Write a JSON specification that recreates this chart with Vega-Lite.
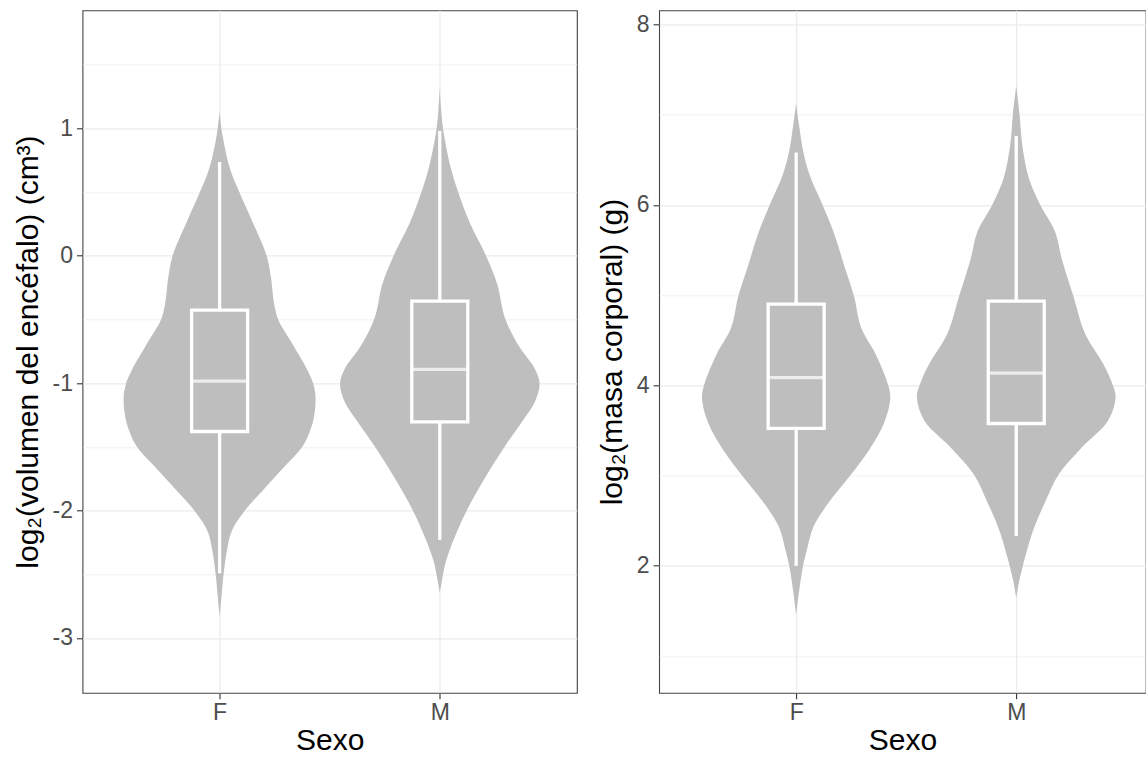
{
  "$schema": "https://vega.github.io/schema/vega-lite/v6.json",
  "background": "white",
  "padding": {"left": 11.5, "top": 9.3, "right": 0, "bottom": 0},
  "spacing": 81.6,
  "bounds": "flush",
  "datasets": {
    "vb": [
      {"sexo": "F", "v": 1.127, "lo": 1, "hi": 1},
      {"sexo": "F", "v": 0.942, "lo": 0.9865, "hi": 1.0135},
      {"sexo": "F", "v": 0.677, "lo": 0.952, "hi": 1.048},
      {"sexo": "F", "v": 0.497, "lo": 0.910, "hi": 1.090},
      {"sexo": "F", "v": 0.280, "lo": 0.8545, "hi": 1.1455},
      {"sexo": "F", "v": 0.002, "lo": 0.787, "hi": 1.213},
      {"sexo": "F", "v": -0.170, "lo": 0.767, "hi": 1.233},
      {"sexo": "F", "v": -0.382, "lo": 0.752, "hi": 1.248},
      {"sexo": "F", "v": -0.501, "lo": 0.734, "hi": 1.266},
      {"sexo": "F", "v": -0.700, "lo": 0.667, "hi": 1.333},
      {"sexo": "F", "v": -0.912, "lo": 0.597, "hi": 1.403},
      {"sexo": "F", "v": -1.004, "lo": 0.575, "hi": 1.425},
      {"sexo": "F", "v": -1.123, "lo": 0.564, "hi": 1.436},
      {"sexo": "F", "v": -1.309, "lo": 0.577, "hi": 1.423},
      {"sexo": "F", "v": -1.494, "lo": 0.622, "hi": 1.378},
      {"sexo": "F", "v": -1.653, "lo": 0.704, "hi": 1.296},
      {"sexo": "F", "v": -1.838, "lo": 0.802, "hi": 1.198},
      {"sexo": "F", "v": -1.997, "lo": 0.884, "hi": 1.116},
      {"sexo": "F", "v": -2.156, "lo": 0.944, "hi": 1.056},
      {"sexo": "F", "v": -2.315, "lo": 0.967, "hi": 1.033},
      {"sexo": "F", "v": -2.500, "lo": 0.982, "hi": 1.018},
      {"sexo": "F", "v": -2.685, "lo": 0.992, "hi": 1.008},
      {"sexo": "F", "v": -2.831, "lo": 1, "hi": 1},
      {"sexo": "M", "v": 1.315, "lo": 2, "hi": 2},
      {"sexo": "M", "v": 1.15, "lo": 1.994, "hi": 2.006},
      {"sexo": "M", "v": 0.992, "lo": 1.985, "hi": 2.015},
      {"sexo": "M", "v": 0.701, "lo": 1.952, "hi": 2.048},
      {"sexo": "M", "v": 0.503, "lo": 1.9175, "hi": 2.0825},
      {"sexo": "M", "v": 0.251, "lo": 1.862, "hi": 2.138},
      {"sexo": "M", "v": 0.0, "lo": 1.790, "hi": 2.210},
      {"sexo": "M", "v": -0.225, "lo": 1.739, "hi": 2.261},
      {"sexo": "M", "v": -0.489, "lo": 1.704, "hi": 2.296},
      {"sexo": "M", "v": -0.701, "lo": 1.644, "hi": 2.356},
      {"sexo": "M", "v": -0.886, "lo": 1.569, "hi": 2.431},
      {"sexo": "M", "v": -1.005, "lo": 1.547, "hi": 2.453},
      {"sexo": "M", "v": -1.151, "lo": 1.569, "hi": 2.431},
      {"sexo": "M", "v": -1.310, "lo": 1.629, "hi": 2.371},
      {"sexo": "M", "v": -1.495, "lo": 1.704, "hi": 2.296},
      {"sexo": "M", "v": -1.733, "lo": 1.791, "hi": 2.209},
      {"sexo": "M", "v": -1.997, "lo": 1.877, "hi": 2.123},
      {"sexo": "M", "v": -2.209, "lo": 1.9325, "hi": 2.0675},
      {"sexo": "M", "v": -2.394, "lo": 1.9715, "hi": 2.0285},
      {"sexo": "M", "v": -2.5, "lo": 1.985, "hi": 2.015},
      {"sexo": "M", "v": -2.646, "lo": 2, "hi": 2}
    ],
    "bb": [
      {"sexo": "F", "pos": 1, "wlo": -2.492, "q1": -1.38, "med": -0.985, "q3": -0.427, "whi": 0.735},
      {"sexo": "M", "pos": 2, "wlo": -2.23, "q1": -1.304, "med": -0.892, "q3": -0.357, "whi": 0.979}
    ],
    "vm": [
      {"sexo": "F", "v": 7.123, "lo": 1, "hi": 1},
      {"sexo": "F", "v": 6.880, "lo": 0.9865, "hi": 1.0135},
      {"sexo": "F", "v": 6.581, "lo": 0.967, "hi": 1.033},
      {"sexo": "F", "v": 6.319, "lo": 0.937, "hi": 1.063},
      {"sexo": "F", "v": 5.983, "lo": 0.877, "hi": 1.123},
      {"sexo": "F", "v": 5.684, "lo": 0.8275, "hi": 1.1725},
      {"sexo": "F", "v": 5.310, "lo": 0.7795, "hi": 1.2205},
      {"sexo": "F", "v": 4.992, "lo": 0.7375, "hi": 1.2625},
      {"sexo": "F", "v": 4.637, "lo": 0.7045, "hi": 1.2955},
      {"sexo": "F", "v": 4.337, "lo": 0.637, "hi": 1.363},
      {"sexo": "F", "v": 4.000, "lo": 0.5815, "hi": 1.4185},
      {"sexo": "F", "v": 3.851, "lo": 0.5725, "hi": 1.4275},
      {"sexo": "F", "v": 3.589, "lo": 0.5995, "hi": 1.4005},
      {"sexo": "F", "v": 3.290, "lo": 0.667, "hi": 1.333},
      {"sexo": "F", "v": 2.991, "lo": 0.757, "hi": 1.243},
      {"sexo": "F", "v": 2.692, "lo": 0.8545, "hi": 1.1455},
      {"sexo": "F", "v": 2.430, "lo": 0.922, "hi": 1.078},
      {"sexo": "F", "v": 2.168, "lo": 0.952, "hi": 1.048},
      {"sexo": "F", "v": 1.981, "lo": 0.970, "hi": 1.030},
      {"sexo": "F", "v": 1.719, "lo": 0.9865, "hi": 1.0135},
      {"sexo": "F", "v": 1.457, "lo": 1, "hi": 1},
      {"sexo": "M", "v": 7.314, "lo": 2, "hi": 2},
      {"sexo": "M", "v": 7.007, "lo": 1.985, "hi": 2.015},
      {"sexo": "M", "v": 6.671, "lo": 1.973, "hi": 2.027},
      {"sexo": "M", "v": 6.297, "lo": 1.943, "hi": 2.057},
      {"sexo": "M", "v": 5.998, "lo": 1.8905, "hi": 2.1095},
      {"sexo": "M", "v": 5.700, "lo": 1.823, "hi": 2.177},
      {"sexo": "M", "v": 5.401, "lo": 1.793, "hi": 2.207},
      {"sexo": "M", "v": 4.990, "lo": 1.7405, "hi": 2.2595},
      {"sexo": "M", "v": 4.578, "lo": 1.688, "hi": 2.312},
      {"sexo": "M", "v": 4.242, "lo": 1.6055, "hi": 2.3945},
      {"sexo": "M", "v": 3.999, "lo": 1.5605, "hi": 2.4395},
      {"sexo": "M", "v": 3.868, "lo": 1.5485, "hi": 2.4515},
      {"sexo": "M", "v": 3.607, "lo": 1.583, "hi": 2.417},
      {"sexo": "M", "v": 3.308, "lo": 1.703, "hi": 2.297},
      {"sexo": "M", "v": 3.009, "lo": 1.808, "hi": 2.192},
      {"sexo": "M", "v": 2.710, "lo": 1.868, "hi": 2.132},
      {"sexo": "M", "v": 2.411, "lo": 1.9205, "hi": 2.0795},
      {"sexo": "M", "v": 2.112, "lo": 1.958, "hi": 2.042},
      {"sexo": "M", "v": 2.0, "lo": 1.970, "hi": 2.030},
      {"sexo": "M", "v": 1.813, "lo": 1.988, "hi": 2.012},
      {"sexo": "M", "v": 1.645, "lo": 2, "hi": 2}
    ],
    "bm": [
      {"sexo": "F", "pos": 1, "wlo": 2.0, "q1": 3.522, "med": 4.085, "q3": 4.9, "whi": 6.581},
      {"sexo": "M", "pos": 2, "wlo": 2.329, "q1": 3.577, "med": 4.135, "q3": 4.933, "whi": 6.765}
    ]
  },
  "hconcat": [
    {
      "width": 494.4,
      "height": 682.5,
      "layer": [
        {
          "data": {"name": "vb"},
          "mark": {"type": "area", "orient": "horizontal", "interpolate": "catmull-rom", "fill": "#BEBEBE"},
          "encoding": {
            "y": {
              "field": "v", "type": "quantitative", "title": "log₂(volumen del encéfalo) (cm³)",
              "scale": {"domain": [-3.43, 1.925], "nice": false, "zero": false},
              "axis": {
                "values": [-3, -2.5, -2, -1.5, -1, -0.5, 0, 0.5, 1, 1.5],
                "labelExpr": "datum.value % 1 === 0 ? (datum.value < 0 ? '-' + abs(datum.value) : '' + datum.value) : ''",
                "tickOpacity": {"condition": {"test": "datum.value % 1 !== 0", "value": 0}, "value": 1},
                "gridWidth": {"condition": {"test": "datum.value % 1 !== 0", "value": 0.7}, "value": 1.3}
              }
            },
            "x": {
              "field": "lo", "type": "quantitative", "title": "Sexo",
              "scale": {"domain": [0.4, 2.6], "nice": false, "zero": false},
              "axis": {"values": [1, 2], "labelExpr": "datum.value === 1 ? 'F' : 'M'", "gridWidth": 1.3}
            },
            "x2": {"field": "hi"},
            "detail": {"field": "sexo"}
          }
        },
        {
          "data": {"name": "bb"},
          "mark": {"type": "rule", "color": "white", "strokeWidth": 3.3},
          "encoding": {
            "x": {"field": "pos", "type": "quantitative", "title": "Sexo"},
            "y": {"field": "wlo", "type": "quantitative", "title": "log₂(volumen del encéfalo) (cm³)"},
            "y2": {"field": "q1"}
          }
        },
        {
          "data": {"name": "bb"},
          "mark": {"type": "rule", "color": "white", "strokeWidth": 3.3},
          "encoding": {
            "x": {"field": "pos", "type": "quantitative", "title": "Sexo"},
            "y": {"field": "q3", "type": "quantitative", "title": "log₂(volumen del encéfalo) (cm³)"},
            "y2": {"field": "whi"}
          }
        },
        {
          "data": {"name": "bb"},
          "mark": {"type": "bar", "width": 56, "fill": "#BEBEBE", "stroke": "white", "strokeWidth": 3.3},
          "encoding": {
            "x": {"field": "pos", "type": "quantitative", "title": "Sexo"},
            "y": {"field": "q1", "type": "quantitative", "title": "log₂(volumen del encéfalo) (cm³)"},
            "y2": {"field": "q3"}
          }
        },
        {
          "data": {"name": "bb"},
          "mark": {"type": "tick", "orient": "horizontal", "size": 56, "thickness": 3.3, "color": "white"},
          "encoding": {
            "x": {"field": "pos", "type": "quantitative", "title": "Sexo"},
            "y": {"field": "med", "type": "quantitative", "title": "log₂(volumen del encéfalo) (cm³)"}
          }
        }
      ]
    },
    {
      "width": 486.7,
      "height": 682.5,
      "layer": [
        {
          "data": {"name": "vm"},
          "mark": {"type": "area", "orient": "horizontal", "interpolate": "catmull-rom", "fill": "#BEBEBE"},
          "encoding": {
            "y": {
              "field": "v", "type": "quantitative", "title": "log₂(masa corporal) (g)",
              "scale": {"domain": [0.592, 8.157], "nice": false, "zero": false},
              "axis": {
                "values": [1, 2, 3, 4, 5, 6, 7, 8],
                "labelExpr": "datum.value % 2 === 0 ? '' + datum.value : ''",
                "tickOpacity": {"condition": {"test": "datum.value % 2 !== 0", "value": 0}, "value": 1},
                "gridWidth": {"condition": {"test": "datum.value % 2 !== 0", "value": 0.7}, "value": 1.3}
              }
            },
            "x": {
              "field": "lo", "type": "quantitative", "title": "Sexo",
              "scale": {"domain": [0.4, 2.566], "nice": false, "zero": false},
              "axis": {"values": [1, 2], "labelExpr": "datum.value === 1 ? 'F' : 'M'", "gridWidth": 1.3}
            },
            "x2": {"field": "hi"},
            "detail": {"field": "sexo"}
          }
        },
        {
          "data": {"name": "bm"},
          "mark": {"type": "rule", "color": "white", "strokeWidth": 3.3},
          "encoding": {
            "x": {"field": "pos", "type": "quantitative", "title": "Sexo"},
            "y": {"field": "wlo", "type": "quantitative", "title": "log₂(masa corporal) (g)"},
            "y2": {"field": "q1"}
          }
        },
        {
          "data": {"name": "bm"},
          "mark": {"type": "rule", "color": "white", "strokeWidth": 3.3},
          "encoding": {
            "x": {"field": "pos", "type": "quantitative", "title": "Sexo"},
            "y": {"field": "q3", "type": "quantitative", "title": "log₂(masa corporal) (g)"},
            "y2": {"field": "whi"}
          }
        },
        {
          "data": {"name": "bm"},
          "mark": {"type": "bar", "width": 56, "fill": "#BEBEBE", "stroke": "white", "strokeWidth": 3.3},
          "encoding": {
            "x": {"field": "pos", "type": "quantitative", "title": "Sexo"},
            "y": {"field": "q1", "type": "quantitative", "title": "log₂(masa corporal) (g)"},
            "y2": {"field": "q3"}
          }
        },
        {
          "data": {"name": "bm"},
          "mark": {"type": "tick", "orient": "horizontal", "size": 56, "thickness": 3.3, "color": "white"},
          "encoding": {
            "x": {"field": "pos", "type": "quantitative", "title": "Sexo"},
            "y": {"field": "med", "type": "quantitative", "title": "log₂(masa corporal) (g)"}
          }
        }
      ]
    }
  ],
  "config": {
    "font": "Liberation Sans",
    "view": {"stroke": "#444444", "strokeWidth": 1.1},
    "axis": {
      "domain": false,
      "grid": true,
      "gridColor": "#EBEBEB",
      "tickColor": "#333333",
      "tickSize": 6,
      "tickWidth": 1.1,
      "labelColor": "#4D4D4D",
      "labelFont": "Liberation Sans",
      "labelFontSize": 23,
      "labelOverlap": false,
      "labelFlush": false,
      "labelPadding": 4,
      "titleFont": "Liberation Sans",
      "titleFontSize": 30,
      "titleFontWeight": "normal",
      "titleColor": "#000000",
      "titlePadding": 9
    },
    "axisX": {"labelPadding": 3, "titlePadding": 1}
  }
}
